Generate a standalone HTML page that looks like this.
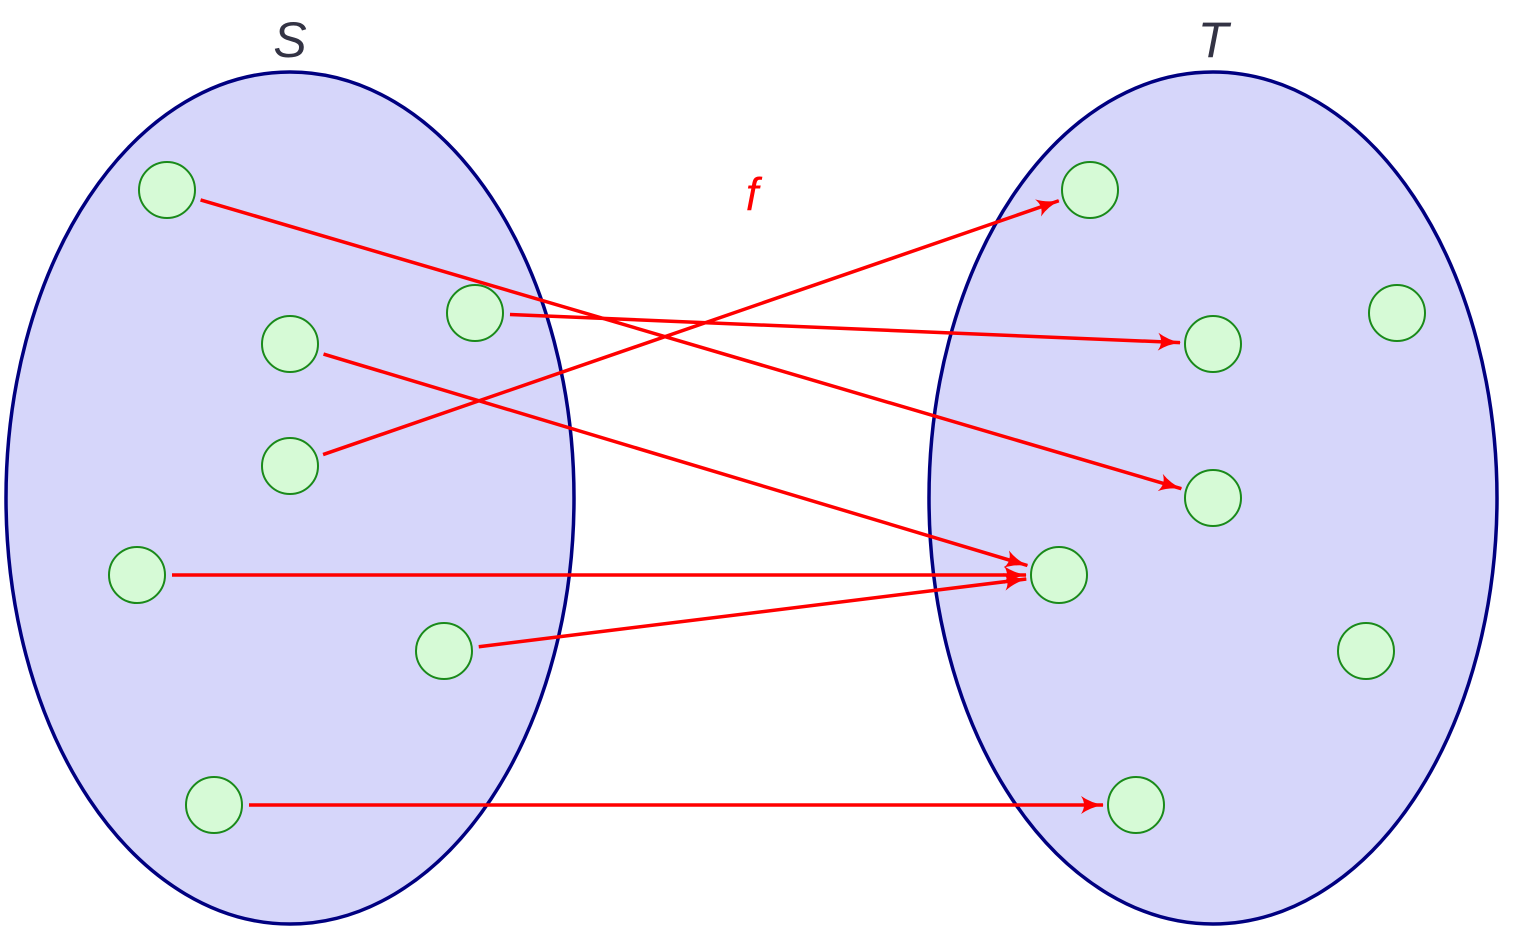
<!DOCTYPE html>
<html><head><meta charset="utf-8"><style>html,body{margin:0;padding:0;background:#fff}svg{display:block}</style></head>
<body>
<svg id="chart" width="1514" height="932" viewBox="0 0 1514 932" xmlns="http://www.w3.org/2000/svg">
<defs>
<marker id="ah" viewBox="0 0 24 20" refX="22" refY="10" markerWidth="24" markerHeight="20" markerUnits="userSpaceOnUse" orient="auto">
<path d="M0,1 Q10,8 23,10 Q10,12 0,19 Q6,10 0,1 Z" fill="#ff0000"/>
</marker>
</defs>
<ellipse cx="290" cy="498" rx="284" ry="426" fill="#d6d6fa" stroke="#000080" stroke-width="3.5"/>
<ellipse cx="1213" cy="498" rx="284" ry="426" fill="#d6d6fa" stroke="#000080" stroke-width="3.5"/>
<text x="290" y="57" font-family="Liberation Sans, sans-serif" font-style="italic" font-size="50" fill="#333344" text-anchor="middle">S</text>
<text x="1213" y="57" font-family="Liberation Sans, sans-serif" font-style="italic" font-size="50" fill="#333344" text-anchor="middle">T</text>
<text x="752" y="210" font-family="Liberation Sans, sans-serif" font-style="italic" font-size="46" fill="#ff0000" text-anchor="middle">f</text>
<g id="arrows"></g>
<g id="nodes"></g>
</svg>
<script>
const sourceNodes = [[167,190],[475,313],[290,344],[290,466],[137,575],[444,651],[214,805]];
const targetNodes = [[1090,190],[1397,313],[1213,344],[1213,498],[1059,575],[1366,651],[1136,805]];
const mapping = [3,2,4,0,4,4,6];
const NS = 'http://www.w3.org/2000/svg';
const R = 28;
const ag = document.getElementById('arrows');
const ng = document.getElementById('nodes');
mapping.forEach((t, i) => {
  const [x1,y1] = sourceNodes[i], [x2,y2] = targetNodes[t];
  const dx = x2-x1, dy = y2-y1, d = Math.hypot(dx,dy);
  const ux = dx/d, uy = dy/d;
  const l = document.createElementNS(NS,'line');
  l.setAttribute('x1', x1+ux*(R+7)); l.setAttribute('y1', y1+uy*(R+7));
  l.setAttribute('x2', x2-ux*(R+5)); l.setAttribute('y2', y2-uy*(R+5));
  l.setAttribute('stroke','#ff0000'); l.setAttribute('stroke-width','3.5');
  l.setAttribute('marker-end','url(#ah)');
  
  
  ag.appendChild(l);
});
function drawNodes(arr, name) {
  arr.forEach(([x,y]) => {
    const c = document.createElementNS(NS,'circle');
    c.setAttribute('cx',x); c.setAttribute('cy',y); c.setAttribute('r',R);
    c.setAttribute('fill','#d6fad6'); c.setAttribute('stroke','#1a8a1a'); c.setAttribute('stroke-width','2');
    
    
    ng.appendChild(c);
  });
}
drawNodes(sourceNodes, 'source-element');
drawNodes(targetNodes, 'target-element');
</script>
</body></html>
